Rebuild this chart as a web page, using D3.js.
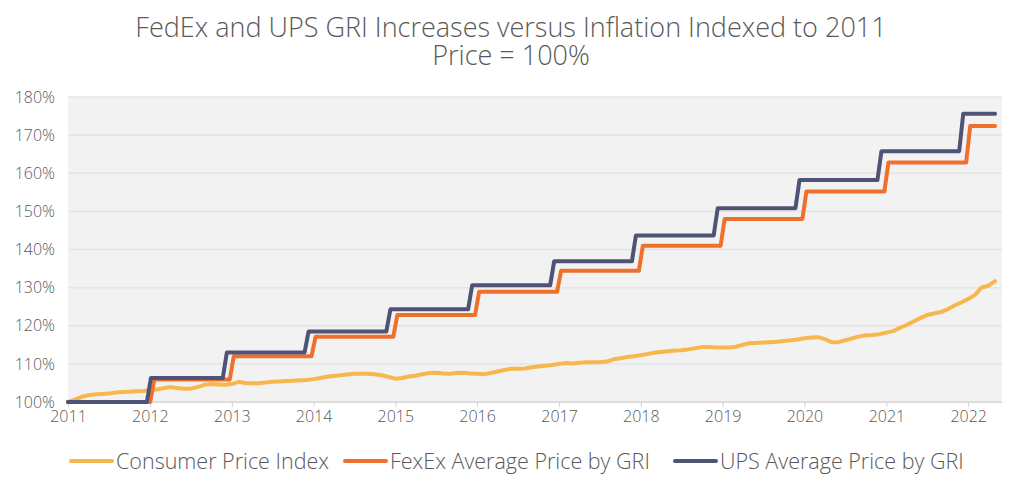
<!DOCTYPE html>
<html>
<head>
    <meta charset="utf-8">
    <title>FedEx and UPS GRI vs Inflation</title>
    <style>
        body { margin: 0; background: #fff; }
        text { font-family: "Open Sans", "Lato", sans-serif; font-weight: 300; fill: #595959; }
    </style>
</head>
<body>
<script src="https://cdn.jsdelivr.net/npm/d3@7"></script>
<script>
    // CPI, monthly, Jan 2011 = 100
    var cpi2011 = [100.0, 100.6, 101.3, 101.8, 102.0, 102.1, 102.2, 102.5, 102.6, 102.7, 102.8, 102.9];
    var cpi2012 = [103.1, 103.3, 103.6, 103.9, 103.7, 103.5, 103.5, 103.9, 104.5, 104.7, 104.6, 104.5];
    var cpi2013 = [104.7, 105.3, 105.0, 104.9, 104.9, 105.1, 105.3, 105.4, 105.5, 105.6, 105.7, 105.8];
    var cpi2014 = [106.0, 106.3, 106.6, 106.8, 107.0, 107.2, 107.4, 107.4, 107.4, 107.3, 107.0, 106.6];
    var cpi2015 = [106.1, 106.3, 106.7, 106.9, 107.3, 107.6, 107.7, 107.5, 107.4, 107.6, 107.7, 107.5];
    var cpi2016 = [107.4, 107.3, 107.6, 108.0, 108.4, 108.7, 108.7, 108.8, 109.1, 109.3, 109.5, 109.7];
    var cpi2017 = [110.0, 110.2, 110.1, 110.3, 110.4, 110.4, 110.4, 110.6, 111.2, 111.5, 111.8, 112.0];
    var cpi2018 = [112.3, 112.6, 112.9, 113.1, 113.3, 113.5, 113.6, 113.8, 114.1, 114.4, 114.4, 114.3];
    var cpi2019 = [114.3, 114.3, 114.5, 115.0, 115.4, 115.5, 115.6, 115.7, 115.8, 116.0, 116.2, 116.4];
    var cpi2020 = [116.7, 116.9, 117.0, 116.5, 115.7, 115.7, 116.2, 116.7, 117.2, 117.5, 117.6, 117.8];
    var cpi2021 = [118.2, 118.6, 119.4, 120.2, 121.1, 122.0, 122.8, 123.2, 123.6, 124.3, 125.3, 126.1];
    var cpi2022 = [127.0, 128.1, 130.0, 130.5, 131.7];

    // GRI price levels per year, 2011..2022
    var years = [2011, 2012, 2013, 2014, 2015, 2016, 2017, 2018, 2019, 2020, 2021, 2022];
    var fedexLevels = [100, 105.9, 112.0, 117.1, 122.8, 128.9, 134.4, 141.0, 148.0, 155.2, 162.8, 172.4];
    var upsLevels = [100, 106.3, 113.0, 118.5, 124.3, 130.6, 136.9, 143.7, 150.8, 158.2, 165.8, 175.6];
    // dates the yearly increases took effect
    var fedexDates = ["2012-01-12", "2013-01-01", "2014-01-01", "2015-01-01", "2016-01-01", "2017-01-01",
        "2018-01-01", "2019-01-01", "2020-01-01", "2021-01-01", "2022-01-01"];
    var upsDates = ["2011-12-28", "2012-12-01", "2013-12-01", "2014-12-01", "2015-12-01", "2016-12-01",
        "2017-12-01", "2018-12-01", "2019-12-01", "2020-12-01", "2021-12-01"];

    var yTicks = [100, 110, 120, 130, 140, 150, 160, 170, 180];
    var seriesNames = ["Consumer Price Index", "FexEx Average Price by GRI", "UPS Average Price by GRI"];
    var colors = ["#F8B74E", "#EF702B", "#4F5476"];

    var width = 1024, height = 489;
    var svg = d3.select('body').append('svg')
        .attr('width', width)
        .attr('height', height);

    var plotLeft = 68, plotRight = 1002, plotTop = 97, plotBottom = 402;

    var parse = d3.timeParse("%Y-%m-%d");
    var start = new Date(2011, 0, 1);
    var x = d3.scaleTime()
        .domain([start, new Date(2022, 5, 1)])
        .range([plotLeft, plotRight]);
    var y = d3.scaleLinear()
        .domain([100, 180])
        .range([plotBottom, plotTop]);

    // CPI points, one per month
    var cpiValues = [].concat(cpi2011, cpi2012, cpi2013, cpi2014, cpi2015, cpi2016,
        cpi2017, cpi2018, cpi2019, cpi2020, cpi2021, cpi2022);
    var cpiData = cpiValues.map(function (v, i) {
        return { date: d3.timeMonth.offset(start, i), value: v };
    });
    var end = cpiData[cpiData.length - 1].date;

    // step lines: each increase ramps over a couple of weeks around its date
    function stepData(levels, dates) {
        var pts = [{ date: start, value: levels[0] }];
        dates.forEach(function (s, i) {
            var d = parse(s);
            pts.push({ date: d3.timeDay.offset(d, -9), value: levels[i] });
            pts.push({ date: d3.timeDay.offset(d, 9), value: levels[i + 1] });
        });
        pts.push({ date: end, value: levels[levels.length - 1] });
        return pts;
    }
    var fedexData = stepData(fedexLevels, fedexDates);
    var upsData = stepData(upsLevels, upsDates);

    // plot background
    svg.append('rect')
        .attr('x', plotLeft)
        .attr('y', plotTop)
        .attr('width', plotRight - plotLeft)
        .attr('height', plotBottom - plotTop)
        .style('fill', '#F2F2F2');

    // grid lines
    svg.append('g')
        .selectAll('line')
        .data(yTicks)
        .enter().append('line')
        .attr('x1', plotLeft)
        .attr('x2', plotRight)
        .attr('y1', function (d) { return y(d); })
        .attr('y2', function (d) { return y(d); })
        .style('stroke', '#E4E4E4')
        .style('stroke-width', 1.5);

    // y axis labels
    var yAxis = svg.append('g')
        .attr('transform', 'translate(' + plotLeft + ',0)')
        .call(d3.axisLeft(y).tickValues(yTicks).tickSize(0).tickPadding(13)
            .tickFormat(function (d) { return d + '%'; }));
    yAxis.select('.domain').remove();
    yAxis.selectAll('text').style('font-size', '16px');

    // x axis
    var xAxis = svg.append('g')
        .attr('transform', 'translate(0,' + plotBottom + ')')
        .call(d3.axisBottom(x)
            .tickValues(years.map(function (yr) { return new Date(yr, 0, 1); }))
            .tickSize(5).tickPadding(4)
            .tickFormat(d3.timeFormat('%Y')));
    xAxis.select('.domain')
        .attr('d', 'M' + plotLeft + ',0H' + plotRight)
        .style('stroke', '#DADADA')
        .style('stroke-width', 1.5);
    xAxis.selectAll('.tick line').style('stroke', '#D0D0D0');
    xAxis.selectAll('text').style('font-size', '16px');

    var line = d3.line()
        .x(function (d) { return x(d.date); })
        .y(function (d) { return y(d.value); });

    [cpiData, fedexData, upsData].forEach(function (data, i) {
        svg.append('path')
            .datum(data)
            .attr('d', line)
            .style('fill', 'none')
            .style('stroke', colors[i])
            .style('stroke-width', 4)
            .style('stroke-linejoin', 'round')
            .style('stroke-linecap', 'round');
    });

    // title
    var title = svg.append('text')
        .attr('text-anchor', 'middle')
        .style('font-size', '27px');
    title.append('tspan').attr('x', 511).attr('y', 37)
        .text('FedEx and UPS GRI Increases versus Inflation Indexed to 2011');
    title.append('tspan').attr('x', 511).attr('y', 65)
        .text('Price = 100%');

    // legend
    var legendX = [71, 345, 675];
    var legend = svg.append('g')
        .selectAll('g')
        .data(seriesNames)
        .enter().append('g')
        .attr('transform', function (d, i) { return 'translate(' + legendX[i] + ',461)'; });
    legend.append('line')
        .attr('x1', 0)
        .attr('x2', 41)
        .style('stroke', function (d, i) { return colors[i]; })
        .style('stroke-width', 4)
        .style('stroke-linecap', 'round');
    legend.append('text')
        .attr('x', 45)
        .attr('y', 8)
        .style('font-size', '21.5px')
        .text(function (d) { return d; });
</script>
</body>
</html>
